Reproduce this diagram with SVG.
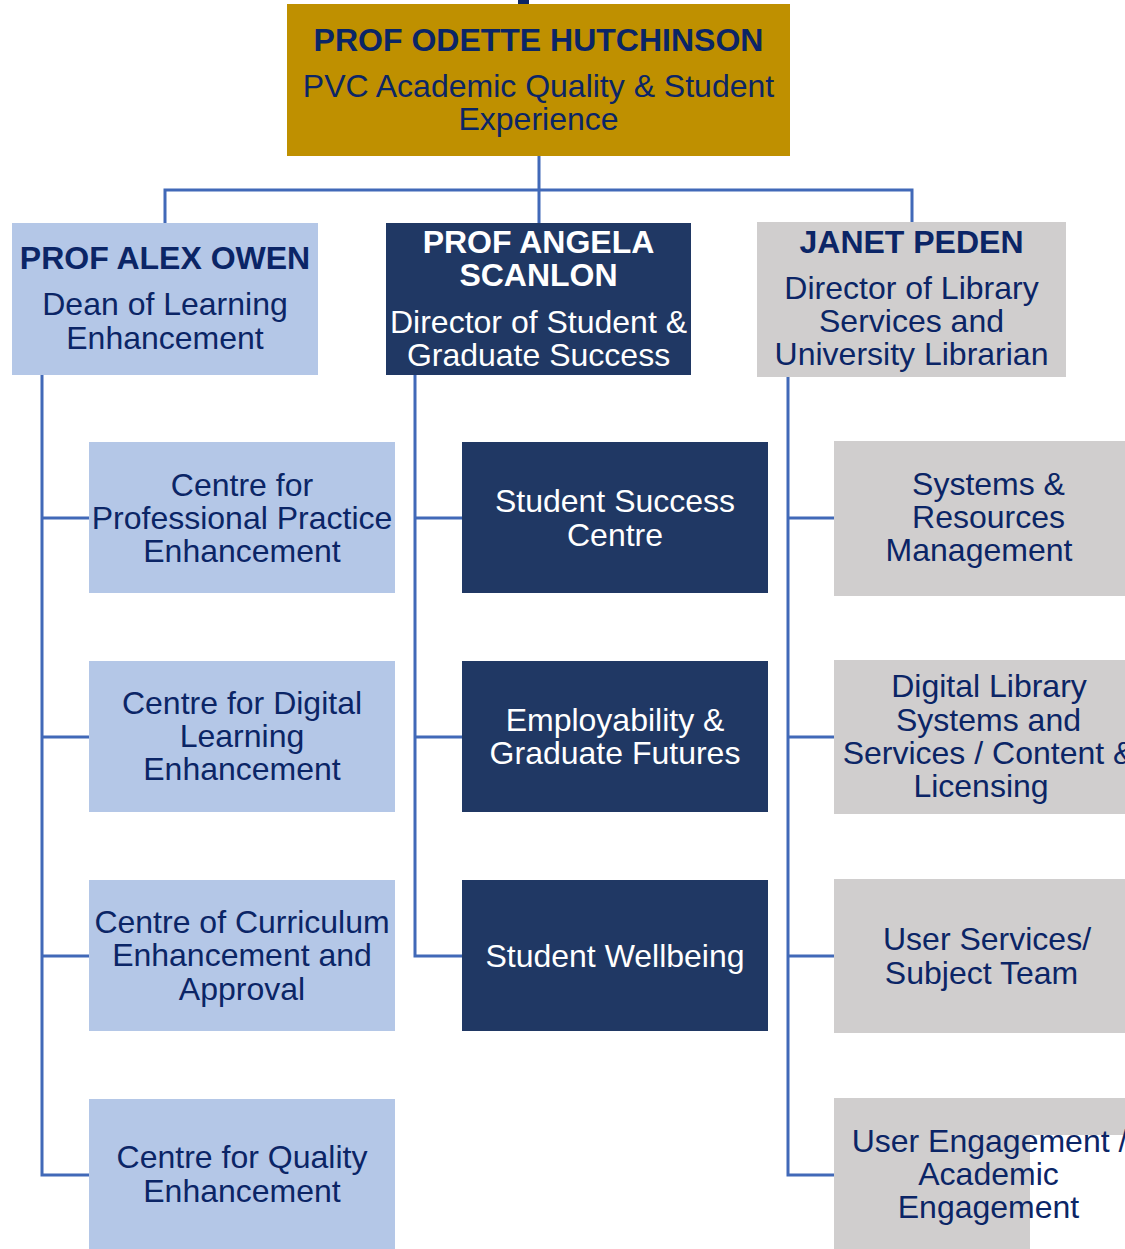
<svg xmlns="http://www.w3.org/2000/svg" width="1125" height="1249" viewBox="0 0 1125 1249">
<style>
text{font-family:"Liberation Sans",Arial,sans-serif;font-size:32px;text-anchor:middle;fill:#0B2566}
.b{font-weight:bold}
.w{fill:#FFFFFF}
.gold{fill:#BF9000}
.lb{fill:#B4C7E7}
.nv{fill:#203864}
.gr{fill:#D0CECE}
.con{fill:none;stroke:#4169B8;stroke-width:3}
</style>
<rect x="518" y="0" width="11" height="7" fill="#0B2566"/>
<g id="connectors">
<path class="con" d="M539,156 V223 M165,223 V190 H912 V222"/>
<path class="con" d="M42,375 V1175 H89 M42,518 H89 M42,737 H89 M42,956 H89"/>
<path class="con" d="M415,375 V956 H462 M415,518 H462 M415,737 H462"/>
<path class="con" d="M788,377 V1175 H834 M788,518 H834 M788,737 H834 M788,956 H834"/>
</g>
<g id="n-hutchinson">
<rect class="gold" x="287" y="4" width="503" height="152"/>
<text class="b" x="538.5" y="50.5">PROF ODETTE HUTCHINSON</text>
<text x="538.5" y="96.5">PVC Academic Quality &amp; Student</text>
<text x="538.5" y="129.5">Experience</text>
</g>
<g id="n-owen">
<rect class="lb" x="12" y="223" width="306" height="152"/>
<text class="b" x="165" y="268.5">PROF ALEX OWEN</text>
<text x="165" y="314.5">Dean of Learning</text>
<text x="165" y="348.5">Enhancement</text>
</g>
<g id="n-scanlon">
<rect class="nv" x="386" y="223" width="305" height="152"/>
<text class="b w" x="538.5" y="252.5">PROF ANGELA</text>
<text class="b w" x="538.5" y="285.5">SCANLON</text>
<text class="w" x="538.5" y="332.5">Director of Student &amp;</text>
<text class="w" x="538.5" y="365.5">Graduate Success</text>
</g>
<g id="n-peden">
<rect class="gr" x="757" y="222" width="309" height="155"/>
<text class="b" x="911.5" y="252.5">JANET PEDEN</text>
<text x="911.5" y="299">Director of Library</text>
<text x="911.5" y="332">Services and</text>
<text x="911.5" y="365">University Librarian</text>
</g>
<g id="n-cppe">
<rect class="lb" x="89" y="442" width="306" height="151"/>
<text x="242" y="495.5">Centre for</text>
<text x="242" y="528.5">Professional Practice</text>
<text x="242" y="561.5">Enhancement</text>
</g>
<g id="n-cdle">
<rect class="lb" x="89" y="661" width="306" height="151"/>
<text x="242" y="714">Centre for Digital</text>
<text x="242" y="747">Learning</text>
<text x="242" y="780">Enhancement</text>
</g>
<g id="n-ccea">
<rect class="lb" x="89" y="880" width="306" height="151"/>
<text x="242" y="932.5">Centre of Curriculum</text>
<text x="242" y="966">Enhancement and</text>
<text x="242" y="999.5">Approval</text>
</g>
<g id="n-cqe">
<rect class="lb" x="89" y="1099" width="306" height="151"/>
<text x="242" y="1168">Centre for Quality</text>
<text x="242" y="1201.5">Enhancement</text>
</g>
<g id="n-ssc">
<rect class="nv" x="462" y="442" width="306" height="151"/>
<text class="w" x="615" y="511.5">Student Success</text>
<text class="w" x="615" y="545.5">Centre</text>
</g>
<g id="n-egf">
<rect class="nv" x="462" y="661" width="306" height="151"/>
<text class="w" x="615" y="730.5">Employability &amp;</text>
<text class="w" x="615" y="763.5">Graduate Futures</text>
</g>
<g id="n-sw">
<rect class="nv" x="462" y="880" width="306" height="151"/>
<text class="w" x="615" y="966.5">Student Wellbeing</text>
</g>
<g id="n-srm">
<rect class="gr" x="834" y="441" width="306" height="155"/>
<text x="988.5" y="494.5">Systems &amp;</text>
<text x="988.5" y="528">Resources</text>
<text x="979" y="561">Management</text>
</g>
<g id="n-dlss">
<rect class="gr" x="834" y="660" width="306" height="154"/>
<text x="989" y="697">Digital Library</text>
<text x="988.5" y="730.5">Systems and</text>
<text x="988.5" y="763.5">Services / Content &amp;</text>
<text x="981" y="797">Licensing</text>
</g>
<g id="n-usst">
<rect class="gr" x="834" y="879" width="306" height="154"/>
<text x="987" y="949.5">User Services/</text>
<text x="981.5" y="983.5">Subject Team</text>
</g>
<g id="n-ueae">
<path class="gr" d="M834,1098 H1140 V1135 H1030 V1249 H834 Z"/>
<text x="989.5" y="1151.5">User Engagement /</text>
<text x="988.5" y="1185">Academic</text>
<text x="988.5" y="1218">Engagement</text>
</g>
</svg>
